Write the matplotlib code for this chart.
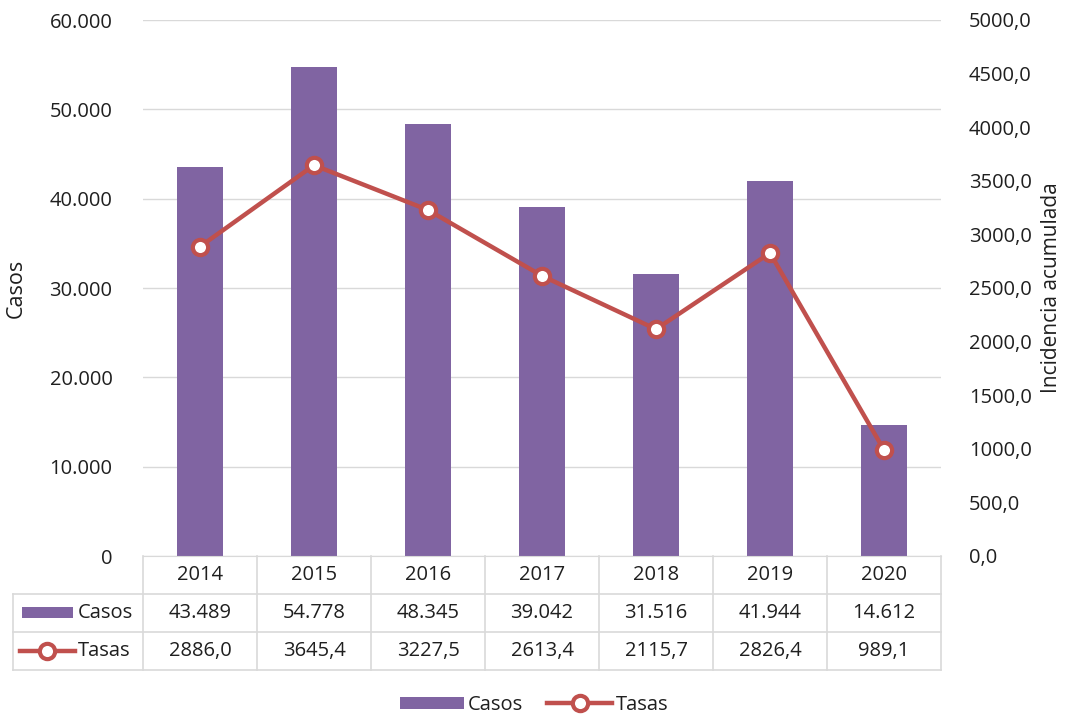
import matplotlib.pyplot as plt
from matplotlib.patches import Rectangle
from matplotlib.lines import Line2D
import matplotlib.transforms as mtransforms
import matplotlib.ticker as mticker

plt.rcParams['font.family'] = ['Open Sans', 'DejaVu Sans']

years = ['2014', '2015', '2016', '2017', '2018', '2019', '2020']
casos = [43489, 54778, 48345, 39042, 31516, 41944, 14612]
tasas = [2886.0, 3645.4, 3227.5, 2613.4, 2115.7, 2826.4, 989.1]

purple = '#8064A2'
red = '#C0504D'
grid_c = '#D9D9D9'
txt_c = '#1F1F1F'
fs = 14.5

W, H = 1068, 717
fig = plt.figure(figsize=(W / 100, H / 100), dpi=100)
x0, x1, y0, y1 = 143, 941, 556, 20
ax = fig.add_axes([x0 / W, 1 - y0 / H, (x1 - x0) / W, (y0 - y1) / H])
ax2 = ax.twinx()

mk = dict(marker='o', markersize=11, markerfacecolor='white',
          markeredgecolor=red, markeredgewidth=3)

x = list(range(len(years)))
ax.bar(x, casos, width=0.4, color=purple, zorder=2)
ax.set_xlim(-0.5, len(years) - 0.5)
ax.set_ylim(0, 60000)
ax.set_yticks(range(0, 60001, 10000))
ax.yaxis.set_major_formatter(mticker.FuncFormatter(
    lambda v, p: '0' if v == 0 else '{:,.0f}'.format(v).replace(',', '.')))
ax.grid(axis='y', color=grid_c, linewidth=1, zorder=0)
ax.set_axisbelow(True)
ax.set_xticks([])
for s in ['top', 'right', 'left']:
    ax.spines[s].set_visible(False)
ax.spines['bottom'].set_color(grid_c)
ax.tick_params(axis='y', length=0, labelsize=fs, colors=txt_c, pad=22)
ax.set_ylabel('Casos', fontsize=fs + 1, color=txt_c, labelpad=16)

ax2.plot(x, tasas, color=red, linewidth=3.2, zorder=3, **mk)
ax2.set_ylim(0, 5000)
ax2.set_yticks(range(0, 5001, 500))
ax2.yaxis.set_major_formatter(mticker.FuncFormatter(
    lambda v, p: '{:.1f}'.format(v).replace('.', ',')))
for s in ['top', 'right', 'left', 'bottom']:
    ax2.spines[s].set_visible(False)
ax2.tick_params(axis='y', length=0, labelsize=fs, colors=txt_c, pad=20)
ax2.set_ylabel('Incidencia acumulada', fontsize=fs + 0.5, color=txt_c, labelpad=7)

# data table under the chart
tr = mtransforms.blended_transform_factory(ax.transData, ax.transAxes)
ph = (y0 - y1)
r1 = -(594 - y0) / ph
r2 = -(632 - y0) / ph
r3 = -(670 - y0) / ph
xl = -0.5 - (x0 - 13) / ((x1 - x0) / len(years))
lk = dict(color=grid_c, linewidth=1.2, transform=tr, clip_on=False)
for i in range(len(years) + 1):
    ax.add_line(Line2D([i - 0.5, i - 0.5], [0, r3], **lk))
ax.add_line(Line2D([xl, xl], [r1, r3], **lk))
for r in [r1, r2, r3]:
    ax.add_line(Line2D([xl, len(years) - 0.5], [r, r], **lk))

for i in x:
    ax.text(i, r1 / 2, years[i], transform=tr, ha='center', va='center',
            fontsize=fs, color=txt_c)
    ax.text(i, (r1 + r2) / 2, '{:,}'.format(casos[i]).replace(',', '.'),
            transform=tr, ha='center', va='center', fontsize=fs, color=txt_c)
    ax.text(i, (r2 + r3) / 2, '{:.1f}'.format(tasas[i]).replace('.', ','),
            transform=tr, ha='center', va='center', fontsize=fs, color=txt_c)

ax.add_patch(Rectangle((xl + 0.08, (r1 + r2) / 2 - 0.01), 0.45, 0.021,
                       facecolor=purple, edgecolor='none', transform=tr, clip_on=False))
ax.text(xl + 0.57, (r1 + r2) / 2, 'Casos', transform=tr, ha='left', va='center',
        fontsize=fs, color=txt_c)
ax.add_line(Line2D([xl + 0.06, xl + 0.54], [(r2 + r3) / 2] * 2, color=red, linewidth=3.2,
                   transform=tr, clip_on=False))
ax.add_line(Line2D([xl + 0.30], [(r2 + r3) / 2], transform=tr, clip_on=False, **mk))
ax.text(xl + 0.57, (r2 + r3) / 2, 'Tasas', transform=tr, ha='left', va='center',
        fontsize=fs, color=txt_c)

handles = [Rectangle((0, 0), 1, 1, facecolor=purple, edgecolor='none'),
           Line2D([], [], color=red, linewidth=3.2, **mk)]
fig.legend(handles, ['Casos', 'Tasas'], loc='center', bbox_to_anchor=(0.5, 1 - 705 / H),
           ncol=2, frameon=False, fontsize=fs, handlelength=3.2, handleheight=0.6,
           columnspacing=1.2, handletextpad=0.2, labelcolor=txt_c)

fig.savefig('out.png', dpi=100)
